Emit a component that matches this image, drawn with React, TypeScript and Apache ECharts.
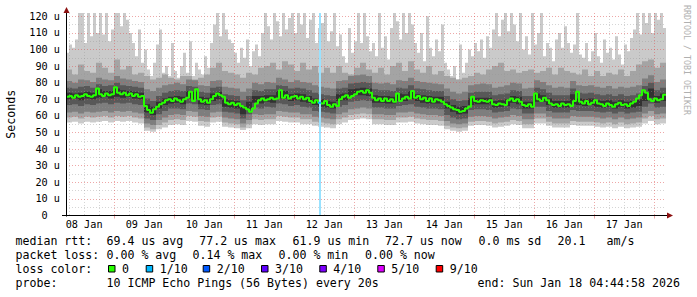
import React, { useEffect, useRef } from "react";
import * as echarts from "echarts";

const W = 697;
const H = 297;
// time axis: hours since 08 Jan 00:00
const START_H = 4.75;
const END_H = 244.75;

const dayLabels = ["08 Jan", "09 Jan", "10 Jan", "11 Jan", "12 Jan", "13 Jan", "14 Jan", "15 Jan", "16 Jan", "17 Jan"];
const yTicks = [0, 10, 20, 30, 40, 50, 60, 70, 80, 90, 100, 110, 120];
const yMinorTicks = [5, 15, 25, 35, 45, 55, 65, 75, 85, 95, 105, 115];

// median rtt (us), 200 samples
const medianRtt = [
  71.5, 72, 71, 72.5, 71.5, 72, 73, 72, 71.5, 72.5,
  76.5, 73, 72, 73.5, 72.5, 73, 77.2, 74, 73, 74,
  72.5, 73.5, 72, 73, 71.5, 72, 66, 63.5, 61.9, 64,
  65.5, 67, 68, 69.5, 70, 69, 70.5, 69.5, 68.5, 70,
  71, 74.5, 69, 76, 70, 68.5, 69.5, 68, 70, 72,
  73.5, 72.5, 71.5, 68, 67, 68, 66.5, 67.5, 66, 65,
  64, 62.5, 64.5, 67.5, 69.5, 70.5, 69.5, 70, 71, 70,
  70.5, 75.5, 71, 72.5, 70.5, 71.5, 72, 70.5, 71.5, 70,
  71, 69, 68, 69.5, 68, 67.5, 69, 66.5, 65.5, 67,
  66, 70, 71.5, 72.5, 71, 72, 73, 74.5, 75, 74,
  75.5, 74, 71, 69.5, 70.5, 69, 70.5, 69, 70, 68.5,
  73.5, 69, 70.5, 71.5, 70.5, 75, 71, 72, 70, 71,
  69, 70.5, 68.5, 70, 69.5, 68.5, 67, 66, 65, 64,
  63.5, 62.5, 63, 64.5, 65.5, 71.5, 69, 68.5, 69.5, 69,
  68.5, 69.5, 67, 66.5, 67.5, 67, 66.5, 69.5, 70.5, 69,
  70, 68.5, 66.5, 66, 67, 65.5, 73.5, 70, 69, 71,
  69.5, 67.5, 66.5, 67, 66, 67.5, 66.5, 67, 66, 69,
  74.5, 68.5, 67.5, 69, 67, 68, 69.5, 67.5, 67, 66,
  67.5, 66.5, 65.5, 67, 68, 66.5, 67, 66, 67.5, 68.5,
  70.5, 72.5, 75.5, 74, 70, 69, 70.5, 69.5, 70, 72.7,
];

// slowest ping of 10 (us), 200 samples
const ping10 = [
  98, 103, 101, 106, 122, 122, 104, 122, 108, 122, 110,
  122, 109, 122, 105, 112, 122,
  122, 114, 122, 118, 110,
  104, 96, 112, 92, 100,
  88, 84, 92, 103, 112, 86, 90,
  84, 104, 87, 83, 90,
  98, 86, 105, 84, 92, 88, 85, 96, 89,
  104, 115, 122, 108, 122, 112, 106,
  104, 98, 92, 101, 95, 106, 90, 99, 103, 96,
  110, 122, 114, 106, 122, 117, 108, 122, 112, 119,
  122, 110, 122, 115, 122, 107, 118, 122, 104, 113,
  116, 122, 105, 111, 122, 102, 109,
  96, 92, 113, 98, 105,
  122, 104, 122, 108, 99,
  104, 96, 122, 101, 108, 94,
  113, 122, 117, 106, 122, 110, 122, 115,
  104, 98, 110, 93, 120, 101, 96, 106, 99, 115, 92,
  88, 84, 90, 82, 103, 86, 92,
  100, 96, 104, 99, 106, 95, 108, 101,
  112, 122, 108, 118, 122, 111, 122, 115,
  105, 122, 100, 108,
  97, 122, 103, 110, 122, 96, 104, 101, 93, 106,
  110, 101, 114, 104,
  98, 103, 122, 97,
  95, 104, 93, 99, 110, 96, 92, 106, 98,
  101, 94, 108, 97, 91, 103, 99, 107,
  112, 122, 109, 122, 116, 122, 110, 122, 118, 122, 113,
];

// remaining sorted pings (us), 100 samples each
const ping9 = [
  88, 85, 91, 87, 86, 92, 89, 86, 94, 88, 90, 85, 86,
  84, 82, 83, 85,
  83, 82, 84, 84, 82, 83, 85,
  89, 92, 87, 86, 85,
  83, 86, 85, 89,
  90, 92, 88, 93, 91, 87, 92, 88, 90, 86, 89, 86, 90,
  86, 85, 89,
  92, 88,
  86, 89, 85,
  90, 92, 87, 93,
  88, 86, 90, 85, 87, 84,
  83, 82, 83,
  84, 86, 85, 88,
  90, 92, 87, 88,
  86, 87,
  88, 86, 87, 89, 85,
  89, 87,
  86, 85, 88, 84, 87, 84, 86,
  85, 88, 84, 87,
  91, 93, 94, 89, 92,
];
const ping8 = [
  81, 80, 82, 81.5, 80.5, 83, 82, 81.5, 84, 82.5, 82, 81, 80.5,
  76, 75, 77, 78.5, 79, 80, 79, 82, 81.5, 78.5, 78, 81, 81.5,
  77.5, 77, 76.5, 74.5, 76.5, 80, 79, 80.5, 80, 83, 82,
  80.5, 81.5, 80.5, 80, 78.5, 77.5, 77, 76.5, 81, 81.5,
  84, 84.5, 85, 84, 80, 79.5, 80, 79, 81.5, 81, 83,
  81, 80.5, 80, 79.5, 79, 76.5, 74.5, 73.5, 74.5,
  78.5, 79, 79.5, 79, 77, 77.5, 78.5, 80, 79.5, 76.5, 77,
  81.5, 80.5, 78.5, 77, 77.5, 77, 81, 78.5, 78,
  78.5, 77.5, 77, 78, 76.5, 77.5, 77, 77.5, 78.5,
  82.5, 84.5, 80.5, 82,
];
const ping7 = [
  77, 76.5, 77.5, 78, 77, 79, 78, 78.5, 80, 78.5, 78, 77.5, 77,
  70.5, 69, 72, 74, 75, 75.5, 75, 78, 77.5, 74.5, 74, 77, 77.5,
  73, 72.5, 72, 69.5, 72, 75.5, 75, 76, 76, 78.5, 78,
  76.5, 77, 76.5, 75.5, 74, 73, 72.5, 72, 76.5, 77,
  79.5, 80, 80.5, 80, 76, 75.5, 75.5, 75, 77, 76.5, 78.5,
  76.5, 76, 75.5, 75, 75, 72, 70, 69, 69.5,
  74, 74.5, 74.5, 74.5, 72.5, 73, 73.5, 75.5, 75, 72, 72,
  77, 76, 74, 72.5, 72.5, 72.5, 76.5, 74, 73.5,
  74, 73, 72.5, 73, 72, 73, 72, 72.5, 73.5,
  78, 80, 75.5, 77,
];
const ping6 = [
  74, 73.5, 74, 74.5, 74, 76, 75, 75, 76.5, 75.5, 75, 74.5, 74,
  67, 65.5, 68.5, 70.5, 71.5, 72, 71.5, 75, 74.5, 71.5, 71, 73.5, 74.5,
  70, 69.5, 69, 66, 68.5, 72, 72, 72.5, 72.5, 75, 75,
  73, 73.5, 73, 72, 70.5, 70, 69, 68.5, 73, 73.5,
  76, 76.5, 77, 76.5, 72.5, 72, 72, 71.5, 73.5, 73, 75,
  73, 72.5, 72, 71.5, 71.5, 68.5, 66.5, 65.5, 66,
  70.5, 71, 71, 71, 69, 69.5, 70, 72, 71.5, 68.5, 68.5,
  73.5, 72.5, 70.5, 69, 69, 69, 73, 70.5, 70,
  70.5, 69.5, 69, 69.5, 68.5, 69.5, 68.5, 69, 70,
  74, 76.5, 72, 73.5,
];
const ping5 = [
  70, 70.5, 69.5, 70.5, 70, 71, 71.5, 70.5, 71.5, 71, 71.5, 70.5, 70,
  62, 60.5, 64.5, 66.5, 67.5, 68, 67, 70.5, 70, 67, 66.5, 69, 70,
  65.5, 65, 64.5, 61, 64, 68, 67.5, 68.5, 68, 70.5, 70.5,
  69, 69.5, 68.5, 68, 66.5, 65.5, 65, 64.5, 69, 69.5,
  71.5, 72.5, 72.5, 72, 68, 68, 67.5, 67.5, 69, 69, 70,
  69, 68, 67.5, 67.5, 67.5, 64.5, 62.5, 61, 61.5,
  66.5, 67, 67, 67, 65, 65.5, 66, 68, 67, 64.5, 64.5,
  68.5, 68.5, 66.5, 65, 65, 65, 67, 66.5, 66,
  66.5, 65.5, 65, 65.5, 64.5, 65.5, 64.5, 65, 66,
  69, 71, 68, 69,
];
const ping4 = [
  66.5, 67, 66, 67, 66.5, 67.5, 68, 67, 68, 67.5, 68, 67, 66.5,
  58.5, 57.5, 61, 63, 64.5, 64.5, 64, 67.5, 67, 64, 63.5, 66.5, 67,
  62.5, 62, 61.5, 58.5, 61, 65, 64.5, 65.5, 65, 67.5, 67,
  66, 66.5, 65.5, 65, 63, 62.5, 62, 61.5, 65.5, 66.5,
  68.5, 69, 69.5, 69, 65, 65, 64.5, 64.5, 66, 66.5, 67,
  65.5, 65, 64.5, 64.5, 64, 60.5, 59, 58, 58.5,
  63.5, 64, 64, 63.5, 62, 62.5, 63, 64.5, 64, 61.5, 61.5,
  65.5, 65.5, 63, 62, 62, 62, 63.5, 63, 63,
  63, 62.5, 62, 62.5, 61.5, 62.5, 61.5, 62, 62.5,
  65.5, 67.5, 65, 65.5,
];
const ping3 = [
  62, 62.5, 61.5, 62.5, 62, 62.5, 63, 62, 63, 62.5, 63, 62, 61.5,
  55.5, 54.5, 57.5, 59, 60.5, 61, 60.5, 63, 62.5, 60, 59.5, 62, 62.5,
  59, 58.5, 58, 55.5, 57.5, 61, 60.5, 61, 61, 63, 62.5,
  62, 62, 61, 61, 59.5, 59, 58.5, 58, 61, 62,
  64, 64.5, 65, 64.5, 61, 61, 60.5, 60.5, 62, 62, 62.5,
  61.5, 61, 60.5, 60.5, 60, 57, 55.5, 55, 55.5,
  59.5, 60, 60, 59.5, 58.5, 59, 59.5, 60.5, 60, 58, 58,
  61.5, 61.5, 59.5, 58.5, 58.5, 58.5, 60, 59.5, 59.5,
  59.5, 59, 58.5, 59, 58, 59, 58, 58.5, 59,
  61.5, 63, 61, 61.5,
];
const ping2 = [
  59, 59.5, 58.5, 59.5, 59, 59.5, 60, 59, 60, 59.5, 60, 59, 58.5,
  53, 52, 54.5, 56, 57.5, 58, 57.5, 60, 59.5, 57, 56.5, 59, 59.5,
  56, 55.5, 55, 53, 55, 58, 57.5, 58, 58, 60, 59.5,
  59, 59, 58, 58, 56.5, 56, 55.5, 55, 58, 59,
  60.5, 61, 61.5, 61, 58, 58, 57.5, 57.5, 59, 59, 59.5,
  58.5, 58, 57.5, 57.5, 57, 54, 53, 52.5, 53,
  56.5, 57, 57, 56.5, 55.5, 56, 56.5, 57.5, 57, 55, 55,
  58.5, 58.5, 56.5, 55.5, 55.5, 55.5, 57, 56.5, 56.5,
  56.5, 56, 55.5, 56, 55, 56, 55, 55.5, 56,
  58.5, 60, 58, 58.5,
];
const ping1 = [
  56, 56.5, 55.5, 56.5, 56, 56.5, 57, 56, 57, 56.5, 57, 56, 55.5,
  51, 50.5, 52, 53, 54.5, 55, 54.5, 57, 56.5, 54, 53.5, 56, 56.5,
  53.5, 53, 52.5, 51.5, 52.5, 55, 54.5, 55, 55, 57, 56.5,
  56, 56, 55, 55, 54, 53.5, 53, 52.5, 55, 56,
  57.5, 58, 58.5, 58, 55, 55, 54.5, 54.5, 56, 56, 56.5,
  55.5, 55, 54.5, 54.5, 54, 52, 51, 50.5, 51,
  54, 54.5, 54.5, 54, 53, 53.5, 54, 55, 54.5, 52.5, 52.5,
  55.5, 55.5, 54, 53, 53, 53, 54.5, 54, 54,
  54, 53.5, 53, 53.5, 52.5, 53.5, 52.5, 53, 53.5,
  55.5, 57, 55, 55.5,
];

// packet loss events: median sample index and lost pings out of 10
const lossSample = [84];
const lossTenths = [1];
const lossNames = ["0", "1/10", "2/10", "3/10", "4/10", "5/10", "9/10"];
const lossColors = ["#26ff00", "#00b8ff", "#0059ff", "#5e00ff", "#7e00ff", "#dd00ff", "#ff0000"];

const rttStats = ["median rtt:", "69.4 us avg", "77.2 us max", "61.9 us min", "72.7 us now", "0.0 ms sd", "20.1", "am/s"];
const lossStats = ["packet loss:", "0.00 % avg", "0.14 % max", "0.00 % min", "0.00 % now"];
const probeStats = ["probe:", "10 ICMP Echo Pings (56 Bytes) every 20s", "end: Sun Jan 18 04:44:58 2026"];
const lossColorTitle = "loss color:";
const yAxisTitle = "Seconds";
const watermark = "RRDTOOL / TOBI OETIKER";

// layout
const GL = 66;
const GT = 13;
const GW = 600;
const GH = 202.5;
const MONO = '"DejaVu Sans Mono", monospace';
const MAJOR = "rgba(222,80,80,0.5)";
const MINOR = "rgba(150,150,150,0.4)";
const ARROW = "#8c1010";
const rttX = [15.5, 106.5, 199.2, 292.5, 385, 478.5, 557.5, 606.5];
const lossX = [15.5, 106.5, 192.5, 278.5, 365];
const probeX = [15.5, 106.5, 477.5];
const boxX = [108, 145.7, 202.7, 261, 319.3, 377.3, 435.7];
const rowY = [241, 255, 268.7, 282.7];

function steps(vals: number[]): number[][] {
  const dt = (END_H - START_H) / vals.length;
  const pts = vals.map((v, i) => [START_H + i * dt, v]);
  pts.push([END_H, vals[vals.length - 1]]);
  return pts;
}

function buildOption(): any {
  const smoke: [number[], string][] = [
    [ping10, "#cacaca"],
    [ping9, "#a4a4a4"],
    [ping8, "#7e7e7e"],
    [ping7, "#585858"],
    [ping6, "#323232"],
    [ping5, "#585858"],
    [ping4, "#7e7e7e"],
    [ping3, "#a4a4a4"],
    [ping2, "#cacaca"],
    [ping1, "#ffffff"],
  ];
  const series: any[] = smoke.map(([vals, color]) => ({
    type: "line",
    step: "end",
    data: steps(vals),
    symbol: "none",
    showSymbol: false,
    silent: true,
    lineStyle: { width: 0, opacity: 0 },
    areaStyle: { color, opacity: 1 },
    z: 2,
  }));
  series.push({
    type: "line",
    step: "end",
    data: steps(medianRtt),
    symbol: "none",
    showSymbol: false,
    silent: true,
    lineStyle: { color: lossColors[0], width: 2 },
    z: 4,
  });
  const dtMed = (END_H - START_H) / medianRtt.length;
  lossSample.forEach((idx, j) => {
    const ci = Math.max(0, lossNames.indexOf(`${lossTenths[j]}/10`));
    const t0 = START_H + idx * dtMed;
    series.push({
      type: "line",
      data: [
        [t0, medianRtt[idx]],
        [t0 + dtMed, medianRtt[idx]],
      ],
      symbol: "none",
      showSymbol: false,
      silent: true,
      lineStyle: { color: lossColors[ci], width: 2 },
      z: 6,
      markLine: {
        silent: true,
        symbol: ["none", "none"],
        label: { show: false },
        lineStyle: { color: echarts.color.lift(lossColors[ci], 0.6), width: 2, type: "solid" },
        data: [{ xAxis: t0 + dtMed / 2 }],
        z: 5,
      },
    });
  });

  const midnights = dayLabels.map((_, d) => 24 * (d + 1)).filter((t) => t > START_H && t < END_H);
  const noons = dayLabels.map((_, d) => 12 + 24 * d);
  const sixHours: number[] = [];
  for (let t = 6; t < END_H; t += 6) if (t % 24 !== 0 && t > START_H) sixHours.push(t);

  const graphic: any[] = [
    { type: "line", z: 10, silent: true, shape: { x1: GL - 4, y1: GT + GH, x2: GL + GW + 4, y2: GT + GH }, style: { stroke: "#000", lineWidth: 1 } },
    { type: "line", z: 10, silent: true, shape: { x1: GL + 0.5, y1: GT + GH + 1, x2: GL + 0.5, y2: GT - 3 }, style: { stroke: "#000", lineWidth: 1 } },
    { type: "polygon", z: 11, silent: true, shape: { points: [[GL + 0.5, GT - 6], [GL - 2.5, GT], [GL + 3.5, GT]] }, style: { fill: ARROW } },
    { type: "polygon", z: 11, silent: true, shape: { points: [[GL + GW + 7, GT + GH], [GL + GW + 1, GT + GH - 3], [GL + GW + 1, GT + GH + 3]] }, style: { fill: ARROW } },
    {
      type: "text", z: 10, silent: true, x: 10.7, y: GT + GH / 2, rotation: Math.PI / 2,
      style: { text: yAxisTitle, fontFamily: MONO, fontSize: 11.6, fill: "#000", align: "center", verticalAlign: "middle" },
    },
    {
      type: "text", z: 10, silent: true, x: 686.5, y: 5, rotation: -Math.PI / 2,
      style: { text: watermark, fontFamily: MONO, fontSize: 8.3, fill: "#b0b0b0", align: "left", verticalAlign: "middle" },
    },
  ];
  const addText = (text: string, x: number, y: number) =>
    graphic.push({
      type: "text", z: 10, silent: true, x, y,
      style: { text, fontFamily: MONO, fontSize: 11.6, fill: "#000", align: "left", verticalAlign: "middle" },
    });
  rttStats.forEach((s, i) => addText(s, rttX[i], rowY[0]));
  lossStats.forEach((s, i) => addText(s, lossX[i], rowY[1]));
  addText(lossColorTitle, 15.5, rowY[2]);
  lossNames.forEach((name, i) => {
    graphic.push({
      type: "rect", z: 10, silent: true,
      shape: { x: boxX[i] + 0.5, y: rowY[2] - 3.2, width: 6.5, height: 6.5 },
      style: { fill: lossColors[i], stroke: "#000", lineWidth: 1 },
    });
    addText(name, boxX[i] + 14, rowY[2]);
  });
  probeStats.forEach((s, i) => addText(s, probeX[i], rowY[3]));

  const labelStyle = { fontFamily: MONO, fontSize: 10.2, color: "#000" };
  const dotted = [1, 2];

  return {
    animation: false,
    backgroundColor: "#ffffff",
    grid: { left: GL, top: GT, width: GW, height: GH, containLabel: false, outerBoundsMode: "none" },
    xAxis: [
      {
        type: "value", min: START_H, max: END_H, z: 3,
        axisLine: { show: false },
        axisTick: { show: true, length: 3, customValues: midnights, lineStyle: { color: MAJOR, width: 1 } },
        splitLine: { show: true, lineStyle: { color: MAJOR, width: 1, type: dotted } },
        axisLabel: {
          show: true, customValues: noons, margin: 4, ...labelStyle,
          formatter: (v: number) => dayLabels[Math.round((v - 12) / 24)] ?? "",
        },
      },
      {
        type: "value", min: START_H, max: END_H, z: 3,
        axisLine: { show: false },
        axisTick: { show: false, customValues: sixHours },
        axisLabel: { show: false },
        splitLine: { show: true, lineStyle: { color: MINOR, width: 1, type: dotted } },
      },
    ],
    yAxis: [
      {
        type: "value", min: 0, max: 122, z: 3,
        axisLine: { show: false },
        axisTick: { show: false, customValues: yTicks },
        splitLine: { show: true, lineStyle: { color: MAJOR, width: 1, type: dotted } },
        axisLabel: {
          show: true, customValues: yTicks, margin: 6, ...labelStyle,
          formatter: (v: number) => (v === 0 ? "{z|0}" : `${v} u`),
          rich: { z: { ...labelStyle, padding: [0, 12.3, 0, 0] } },
        },
      },
      {
        type: "value", min: 0, max: 122, z: 3,
        axisLine: { show: false },
        axisTick: { show: false, customValues: yMinorTicks },
        axisLabel: { show: false },
        splitLine: { show: true, lineStyle: { color: MINOR, width: 1, type: dotted } },
      },
    ],
    series,
    graphic,
  };
}

export default function App() {
  const ref = useRef<HTMLDivElement>(null);
  useEffect(() => {
    if (!ref.current) return;
    const chart = echarts.init(ref.current, null, { renderer: "svg", width: W, height: H });
    chart.setOption(buildOption());
    return () => chart.dispose();
  }, []);
  return (
    <div
      ref={ref}
      style={{ position: "fixed", left: 0, top: 0, width: W, height: H, background: "#ffffff" }}
    />
  );
}
